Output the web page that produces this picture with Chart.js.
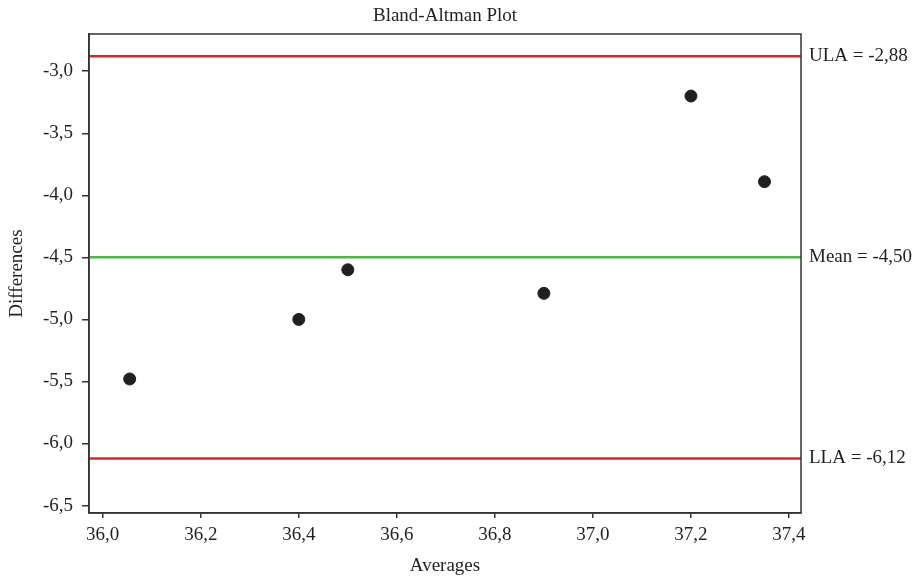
<!DOCTYPE html>
<html>
<head>
<meta charset="utf-8">
<script src="https://cdn.jsdelivr.net/npm/chart.js@4"></script>
<style>
  html, body { margin: 0; padding: 0; background: #fff; }
  #wrap { width: 924px; height: 577px; }
</style>
</head>
<body>
<div id="wrap"><canvas id="chart"></canvas></div>
<script>
// data
const averages = [36.055, 36.40, 36.50, 36.90, 37.20, 37.35];
const differences = [-5.48, -5.00, -4.60, -4.79, -3.20, -3.89];
const limitNames = ['ULA', 'Mean', 'LLA'];
const limitValues = [-2.88, -4.50, -6.12];
const limitColors = ['#d7262e', '#4db54d', '#d7262e'];
const xTicks = [36.0, 36.2, 36.4, 36.6, 36.8, 37.0, 37.2, 37.4];
const yTicks = [-3.0, -3.5, -4.0, -4.5, -5.0, -5.5, -6.0, -6.5];
const xRange = [35.972, 37.4245];
const yRange = [-6.56, -2.70];

const ink = '#231f20';
const serif = "'Liberation Serif', 'DejaVu Serif', serif";
const fmt = (v, d) => v.toFixed(d).replace('.', ',');

const lineSets = limitValues.map((v, i) => ({
  type: 'line',
  label: limitNames[i],
  data: [{x: xRange[0], y: v}, {x: xRange[1], y: v}],
  borderColor: limitColors[i],
  borderWidth: 2.5,
  pointRadius: 0,
  order: 2
}));

// frame round the plot, title over the plot, labels for the limit lines
const framePlugin = {
  id: 'frame',
  afterDraw(chart) {
    const {ctx, chartArea: a, scales} = chart;
    ctx.save();
    ctx.strokeStyle = '#333';
    ctx.lineWidth = 1.5;
    ctx.strokeRect(a.left, a.top, a.right - a.left, a.bottom - a.top);
    ctx.fillStyle = ink;
    ctx.font = '19px ' + serif;
    ctx.textBaseline = 'middle';
    ctx.textAlign = 'center';
    ctx.fillText('Bland-Altman Plot', (a.left + a.right) / 2, 16);
    ctx.textAlign = 'left';
    limitValues.forEach((v, i) => {
      ctx.fillText(limitNames[i] + ' = ' + fmt(v, 2), a.right + 8, scales.y.getPixelForValue(v));
    });
    ctx.restore();
  }
};

const ctx = document.getElementById('chart').getContext('2d');
const myChart = new Chart(ctx, {
  type: 'scatter',
  data: {
    datasets: [{
      label: 'Differences',
      data: averages.map((x, i) => ({x: x, y: differences[i]})),
      backgroundColor: ink,
      borderColor: ink,
      pointRadius: 6,
      order: 1
    }, ...lineSets]
  },
  options: {
    responsive: true,
    maintainAspectRatio: false,
    animation: false,
    layout: { padding: { left: 0, right: 123, top: 34, bottom: 0 } },
    plugins: {
      legend: { display: false },
      tooltip: { enabled: false },
      title: { display: false }
    },
    scales: {
      x: {
        type: 'linear',
        min: xRange[0],
        max: xRange[1],
        afterBuildTicks: s => { s.ticks = xTicks.map(v => ({value: v})); },
        afterFit: s => { s.height = 64; },
        ticks: {
          color: ink,
          font: { family: serif, size: 19 },
          padding: 6,
          callback: v => fmt(v, 1)
        },
        grid: { drawOnChartArea: false, drawTicks: true, tickLength: 5, color: '#333', lineWidth: 1.5 },
        border: { display: true, color: '#333', width: 1.5 },
        title: {
          display: true,
          text: 'Averages',
          color: ink,
          font: { family: serif, size: 19 },
          padding: { top: 0, bottom: 0 }
        }
      },
      y: {
        type: 'linear',
        min: yRange[0],
        max: yRange[1],
        afterBuildTicks: s => { s.ticks = yTicks.map(v => ({value: v})); },
        afterFit: s => { s.width = 89; },
        ticks: {
          color: ink,
          font: { family: serif, size: 19 },
          padding: 9,
          callback: v => fmt(v, 1)
        },
        grid: { drawOnChartArea: false, drawTicks: true, tickLength: 7, color: '#333', lineWidth: 1.5 },
        border: { display: true, color: '#333', width: 1.5 },
        title: {
          display: true,
          text: 'Differences',
          color: ink,
          font: { family: serif, size: 19 },
          padding: { top: 6, bottom: 0 }
        }
      }
    }
  },
  plugins: [framePlugin]
});
</script>
</body>
</html>
